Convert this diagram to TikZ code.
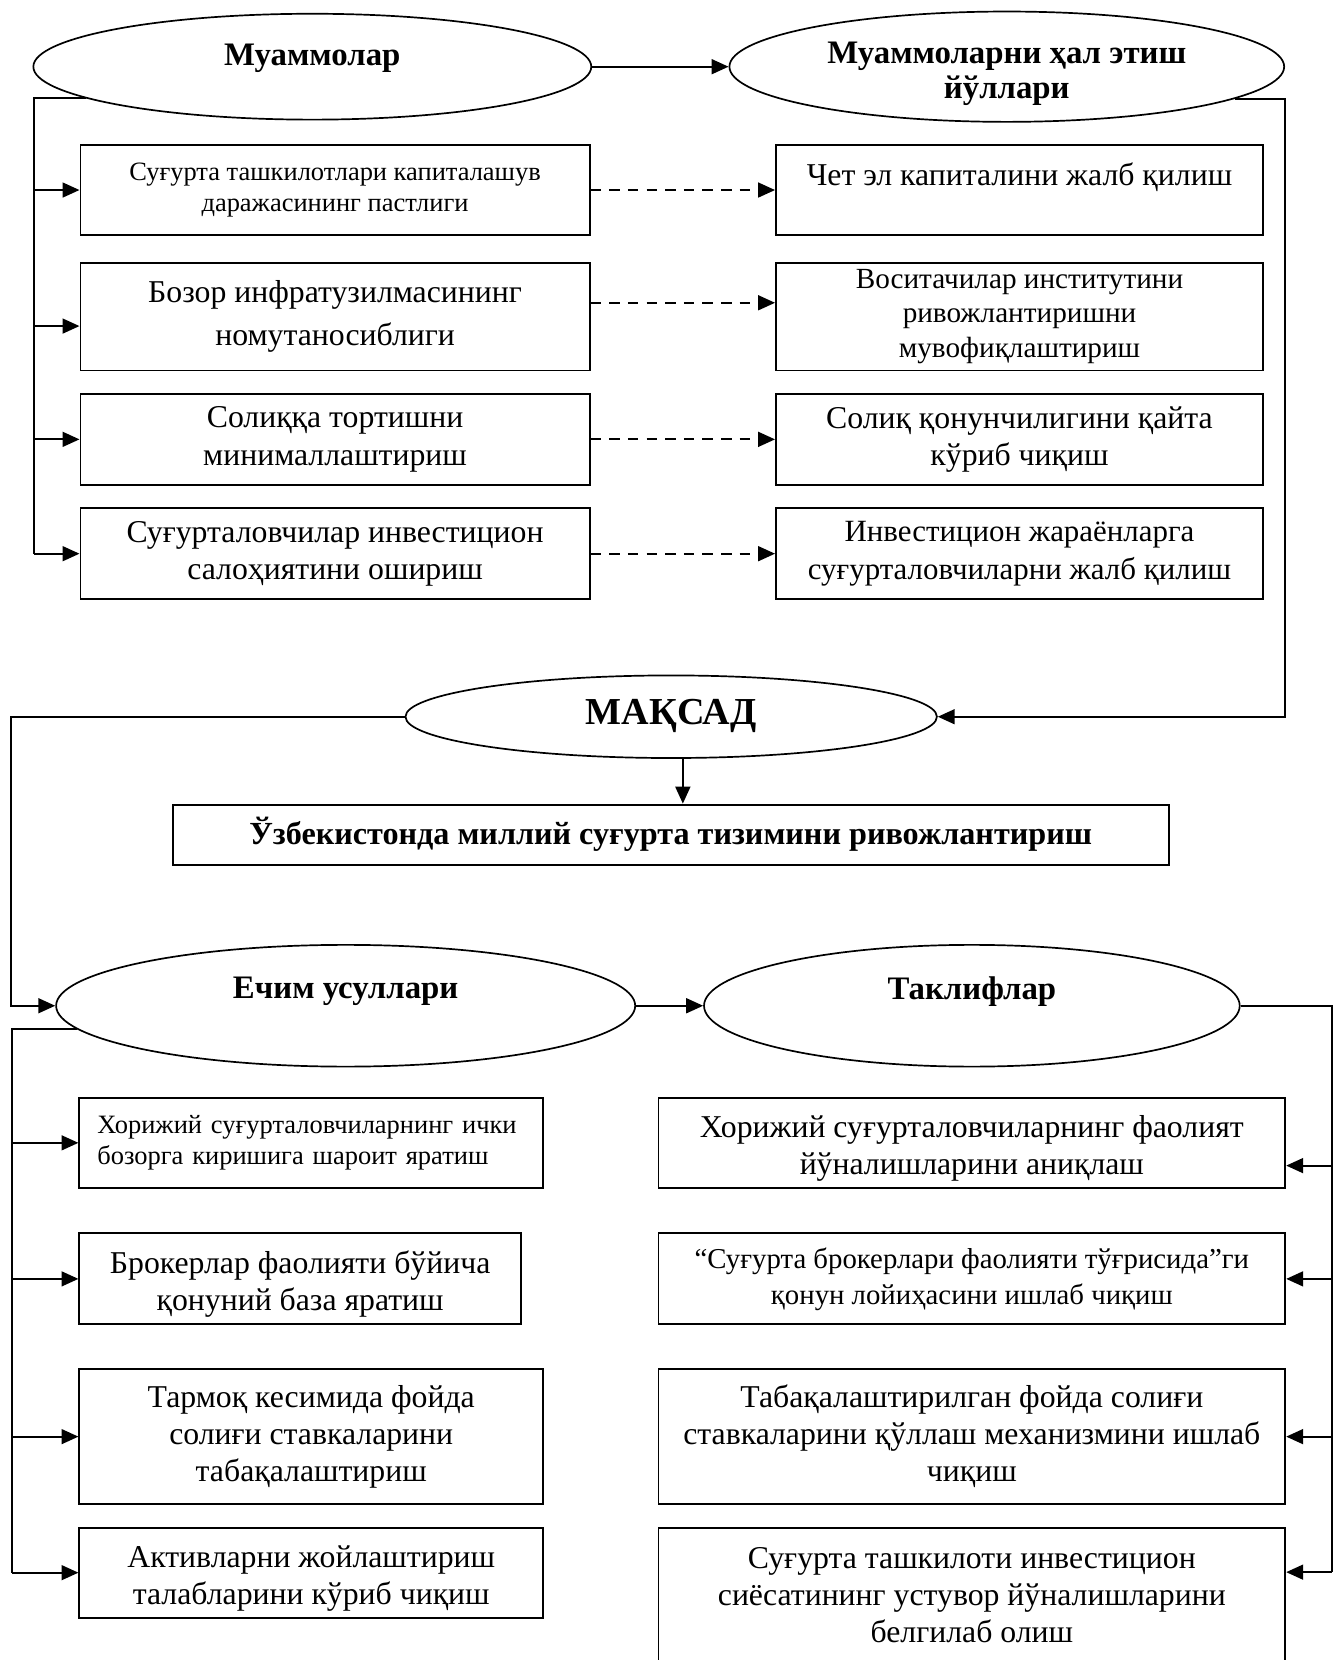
\documentclass[tikz,border=0pt]{standalone}
\usepackage{fontspec}
\setmainfont{Liberation Serif}
\usepackage{tikz}
\usetikzlibrary{shapes,arrows,positioning,calc,arrows.meta}

\newcommand{\lowline}{\rule{0pt}{15.5pt}}

\tikzset{
  oval/.style={draw, ellipse, line width=0.8pt, inner sep=0pt, align=center,
    font=\fontsize{15.5}{16.5}\selectfont\bfseries},
  box/.style={draw, rectangle, line width=0.9pt, inner sep=2pt, align=center,
    font=\fontsize{15}{17.5}\selectfont},
  small/.style={font=\fontsize{12.5}{14.5}\selectfont},
  line/.style={line width=1pt},
  arr/.style={line width=1pt, -{Triangle[length=8pt,width=7pt]}},
  darr/.style={arr, dash pattern=on 5pt off 3.8pt},
}

\begin{document}
\begin{tikzpicture}[x=0.5pt, y=-0.5pt]
    \useasboundingbox (0,0) rectangle (1264,1568);

    % Problems and ways of solving them
    \node[oval, minimum width=263.5pt, minimum height=50pt, text depth=11pt] (m1) at (295,63) {Муаммолар};
    \node[oval, minimum width=262pt, minimum height=50pt] (m2) at (951,63) {\rule{0pt}{17pt}Муаммоларни ҳал этиш\\йўллари};
    \draw[arr] (m1) -- (m2);

    \node[box, small, minimum width=240.5pt, minimum height=42.5pt] (p1) at (316.5,179.5) {Суғурта ташкилотлари капиталашув\\даражасининг пастлиги};
    \node[box, font=\fontsize{15}{20}\selectfont, minimum width=240.5pt, minimum height=51pt] (p2) at (316.5,299) {Бозор инфратузилмасининг\\номутаносиблиги};
    \node[box, minimum width=240.5pt, minimum height=43pt] (p3) at (316.5,415) {Солиққа тортишни\\минималлаштириш};
    \node[box, minimum width=240.5pt, minimum height=43pt] (p4) at (316.5,523) {Суғурталовчилар инвестицион\\салоҳиятини ошириш};

    \node[box, text depth=15pt, minimum width=230pt, minimum height=42.5pt] (s1) at (963,179.5) {Чет эл капиталини жалб қилиш};
    \node[box, font=\fontsize{13.8}{16.5}\selectfont, minimum width=230pt, minimum height=51pt] (s2) at (963,299) {Воситачилар институтини\\ривожлантиришни\\мувофиқлаштириш};
    \node[box, minimum width=230pt, minimum height=43pt] (s3) at (963,415) {Солиқ қонунчилигини қайта\\кўриб чиқиш};
    \node[box, font=\fontsize{14.6}{17.5}\selectfont, minimum width=230pt, minimum height=43pt] (s4) at (963,523) {Инвестицион жараёнларга\\суғурталовчиларни жалб қилиш};

    \coordinate (lb) at (32,0);
    \coordinate (p2in) at ([yshift=-4.5pt]p2.west);
    \draw[line] (m1.188) -- (m1.188 -| lb) -- (lb |- p4.west);
    \foreach \n in {p1.west,p2in,p3.west,p4.west}
        \draw[arr] (lb |- \n) -- (\n);

    \foreach \i in {1,3,4}
        \draw[darr] (p\i.east) -- (s\i.west);
    \draw[darr] ([yshift=6.5pt]p2.east) -- ([yshift=6.5pt]s2.west);

    % Goal
    \node[oval, font=\fontsize{18}{20}\selectfont\bfseries, text depth=5pt, minimum width=251pt, minimum height=39pt] (g) at (634,677) {МАҚСАД};
    \node[box, font=\fontsize{15.2}{17.5}\selectfont\bfseries, minimum width=470.5pt, minimum height=28.5pt] (aim) at (633.5,788.5) {Ўзбекистонда миллий суғурта тизимини ривожлантириш};

    \coordinate (rb) at (1214,0);
    \draw[arr] (m2.352) -- (m2.352 -| rb) -- (rb |- g.east) -- (g.east);
    \draw[arr] ([xshift=5.5pt]g.south) -- ([xshift=5.5pt]g.south |- aim.north);

    % Solutions and proposals
    \node[oval, text depth=17pt, minimum width=273.5pt, minimum height=57.5pt] (e1) at (326.5,950) {Ечим усуллари};
    \node[oval, text depth=17pt, minimum width=253pt, minimum height=57.5pt] (e2) at (918,950) {Таклифлар};

    \coordinate (lb2) at (10,0);
    \draw[arr] (g.west) -- (g.west -| lb2) -- (lb2 |- e1.west) -- (e1.west);
    \draw[arr] (e1) -- (e2);

    \node[box, small, align=left, text width=202pt, minimum width=219pt, minimum height=42.5pt] (c1) at (294,1079.5) {Хорижий суғурталовчиларнинг ички\\бозорга киришига шароит яратиш};
    \node[box, minimum width=208.5pt, minimum height=43pt] (c2) at (283.5,1208) {\lowline Брокерлар фаолияти бўйича\\қонуний база яратиш};
    \node[box, minimum width=219pt, minimum height=64pt] (c3) at (294,1357) {Тармоқ кесимида фойда\\солиғи ставкаларини\\табақалаштириш};
    \node[box, minimum width=219pt, minimum height=42.5pt] (c4) at (294,1485.5) {\lowline Активларни жойлаштириш\\талабларини кўриб чиқиш};

    \node[box, minimum width=296pt, minimum height=42.5pt] (q1) at (918,1079.5) {\lowline Хорижий суғурталовчиларнинг фаолият\\йўналишларини аниқлаш};
    \node[box, font=\fontsize{13.6}{17}\selectfont, minimum width=296pt, minimum height=43pt] (q2) at (918,1208) {“Суғурта брокерлари фаолияти тўғрисида”ги\\қонун лойиҳасини ишлаб чиқиш};
    \node[box, minimum width=296pt, minimum height=64pt] (q3) at (918,1357) {Табақалаштирилган фойда солиғи\\ставкаларини қўллаш механизмини ишлаб\\чиқиш};
    \node[box, minimum width=296pt, minimum height=64pt] (q4) at (918,1507) {Суғурта ташкилоти инвестицион\\сиёсатининг устувор йўналишларини\\белгилаб олиш};

    \coordinate (lb3) at (11,0);
    \draw[line] (e1.185) -- (e1.185 -| lb3) -- (lb3 |- c4.west);
    \foreach \n in {c1,c2,c3,c4}
        \draw[arr] (lb3 |- \n.west) -- (\n.west);

    \coordinate (rb2) at (1258,0);
    \coordinate (q1in) at ([yshift=-10.75pt]q1.east);
    \coordinate (q4in) at ([yshift=11pt]q4.east);
    \draw[line] (e2.east) -- (e2.east -| rb2) -- (rb2 |- q4in);
    \foreach \n in {q1in,q2.east,q3.east,q4in}
        \draw[arr] (rb2 |- \n) -- (\n);
\end{tikzpicture}
\end{document}
